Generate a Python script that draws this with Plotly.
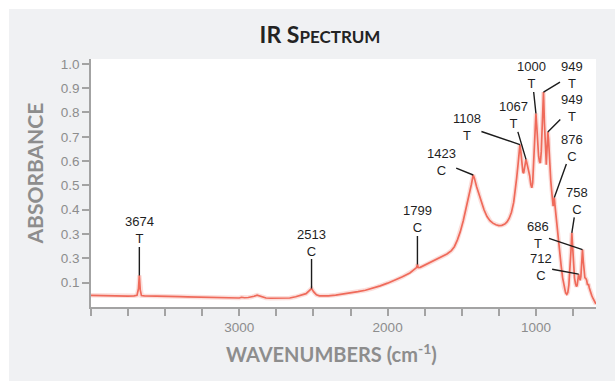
import numpy as np
import plotly.graph_objects as go

# ---- spectrum (wavenumber in cm-1, absorbance) ----
WAVENUMBER = [
    4000, 3950, 3900, 3850, 3800, 3750, 3710, 3690, 3680, 3674, 3668, 3660,
    3640, 3600, 3550, 3500, 3450, 3400, 3350, 3300, 3250, 3200, 3150, 3100,
    3050, 3020, 3000, 2985, 2965, 2940, 2920, 2900, 2880, 2865, 2845, 2820,
    2790, 2750, 2700, 2660, 2620, 2580, 2550, 2530, 2513, 2498, 2480, 2460,
    2430, 2400, 2350, 2300, 2250, 2200, 2150, 2100, 2050, 2000, 1950, 1900,
    1850, 1815, 1805, 1799, 1793, 1780, 1750, 1700, 1650, 1600, 1570, 1550,
    1530, 1510, 1490, 1470, 1450, 1435, 1423, 1415, 1400, 1385, 1370, 1350,
    1330, 1310, 1290, 1270, 1250, 1230, 1210, 1195, 1180, 1165, 1150, 1140,
    1130, 1120, 1113, 1108, 1102, 1095, 1088, 1083, 1078, 1072, 1067, 1062,
    1055, 1048, 1042, 1035, 1028, 1022, 1015, 1008, 1000, 994, 988, 982,
    976, 970, 964, 958, 953, 949, 943, 936, 930, 925, 920, 915,
    908, 900, 892, 884, 880, 876, 872, 866, 858, 850, 840, 830,
    820, 810, 800, 792, 785, 778, 770, 764, 758, 753, 747, 740,
    733, 727, 722, 717, 712, 707, 702, 697, 692, 686, 681, 676,
    670, 664, 658, 652, 646, 640, 632, 624, 615, 605, 595,
]
ABSORBANCE = [
    0.048, 0.047, 0.046, 0.046, 0.045, 0.045, 0.046, 0.048, 0.075, 0.130, 0.070, 0.047,
    0.046, 0.046, 0.045, 0.044, 0.043, 0.043, 0.042, 0.041, 0.040, 0.038, 0.037, 0.036,
    0.035, 0.035, 0.037, 0.040, 0.038, 0.039, 0.041, 0.044, 0.049, 0.046, 0.040, 0.037,
    0.036, 0.036, 0.036, 0.037, 0.042, 0.048, 0.055, 0.066, 0.076, 0.062, 0.050, 0.046,
    0.045, 0.046, 0.049, 0.053, 0.058, 0.063, 0.069, 0.077, 0.087, 0.098, 0.110, 0.124,
    0.140, 0.155, 0.162, 0.175, 0.162, 0.163, 0.172, 0.187, 0.202, 0.218, 0.232, 0.248,
    0.275, 0.310, 0.355, 0.405, 0.460, 0.505, 0.543, 0.530, 0.495, 0.465, 0.435, 0.400,
    0.372, 0.355, 0.345, 0.338, 0.335, 0.336, 0.341, 0.350, 0.365, 0.390, 0.430, 0.475,
    0.530, 0.590, 0.640, 0.668, 0.640, 0.585, 0.555, 0.550, 0.570, 0.598, 0.607, 0.595,
    0.575, 0.560, 0.540, 0.505, 0.490, 0.510, 0.590, 0.700, 0.796, 0.740, 0.660, 0.620,
    0.598, 0.592, 0.640, 0.750, 0.840, 0.884, 0.760, 0.630, 0.585, 0.650, 0.720, 0.690,
    0.590, 0.520, 0.465, 0.415, 0.430, 0.450, 0.420, 0.380, 0.330, 0.290, 0.230, 0.170,
    0.120, 0.080, 0.058, 0.052, 0.060, 0.090, 0.150, 0.230, 0.305, 0.240, 0.170, 0.120,
    0.095, 0.084, 0.090, 0.115, 0.135, 0.120, 0.110, 0.125, 0.170, 0.236, 0.190, 0.140,
    0.120, 0.118, 0.110, 0.090, 0.095, 0.078, 0.060, 0.048, 0.035, 0.022, 0.012,
]

# ---- peak assignments (T / C) ----
PEAK_TEXT = ["3674<br>T", "2513<br>C", "1799<br>C", "1423<br>C", "1108<br>T",
             "1067<br>T", "1000<br>T", "949<br>T", "949<br>T", "876<br>C",
             "758<br>C", "686<br>T", "712<br>C"]
PEAK_WN = [3674, 2513, 1799, 1423, 1108, 1067, 1000, 949, 920, 876, 758, 686, 712]
# label offsets from the peak tip, in pixels
PEAK_AX = [0, 0, 0, -32, -53, -13, -4, 28, 24, 18, 5, -45, -38]
PEAK_AY = [-45, -46, -45, -13, -18, -44, -38, -17, -24, -50, -32, -15, -7]

Y_TICKS = [0.1, 0.2, 0.3, 0.4, 0.5, 0.6, 0.7, 0.8, 0.9, 1.0]
Y_TICK_TEXT = ["0.1", "0.3", "0.3", "0.4", "0.5", "0.6", "0.7", "0.8", "0.9", "1.0"]
X_TICKS = [3000, 2000, 1000]
X_TICK_TEXT = ["3000", "2000", "1000"]
X_MINOR_TICKS = list(range(4000, 500, -250))

W, H = 615, 381
M_L, M_R, M_T, M_B = 91, 19, 59, 73.5
PW, PH = W - M_L - M_R, H - M_T - M_B


def px_x(px):
    return (px - M_L) / PW


def px_y(py):
    return (H - M_B - py) / PH


LINE = "#ef6a5a"
GREY_TXT = "#8d8d8d"
AXIS = "#a3a3a3"
TICK_FONT = dict(family="Liberation Sans, Arial, sans-serif", size=13.5, color=GREY_TXT)
TITLE_FONT = dict(family="Lato, sans-serif", color=GREY_TXT, weight="bold")

fig = go.Figure()
# soft halo under the trace
fig.add_trace(go.Scatter(x=WAVENUMBER, y=ABSORBANCE, mode="lines",
                         line=dict(color="rgba(239,106,90,0.22)", width=4.5),
                         hoverinfo="skip", showlegend=False))
fig.add_trace(go.Scatter(x=WAVENUMBER, y=ABSORBANCE, mode="lines",
                         line=dict(color=LINE, width=1.7),
                         hoverinfo="skip", showlegend=False))

wn_sorted = np.array(WAVENUMBER[::-1], dtype=float)
ab_sorted = np.array(ABSORBANCE[::-1], dtype=float)

annotations = []
for txt, wn, ax, ay in zip(PEAK_TEXT, PEAK_WN, PEAK_AX, PEAK_AY):
    annotations.append(dict(
        x=wn, y=float(np.interp(wn, wn_sorted, ab_sorted)), xref="x", yref="y",
        text=txt, showarrow=True, arrowhead=0, arrowwidth=1.4, arrowcolor="#1c1c1c",
        ax=ax, ay=ay, standoff=0, startstandoff=0, borderpad=0,
        font=dict(family="Liberation Sans, Arial, sans-serif", size=13, color="#1f1f1f"),
        align="center",
    ))

shapes = [
    # white strips along the top and left edges of the page
    dict(type="rect", xref="paper", yref="paper", x0=px_x(-5), x1=px_x(W + 5),
         y0=px_y(9), y1=px_y(-5), fillcolor="white", line_width=0, layer="below"),
    dict(type="rect", xref="paper", yref="paper", x0=px_x(-5), x1=px_x(9),
         y0=px_y(H + 5), y1=px_y(-5), fillcolor="white", line_width=0, layer="below"),
]

fig.update_layout(
    width=W, height=H,
    margin=dict(l=M_L, r=M_R, t=M_T, b=M_B, pad=0),
    paper_bgcolor="#f0f1f3", plot_bgcolor="white",
    showlegend=False,
    title=dict(text="IR S<span style='font-size:17px'>PECTRUM</span>",
               x=320 / W, y=1 - 35 / H, xref="container", yref="container",
               xanchor="center", yanchor="middle",
               font=dict(family="Lato, sans-serif", size=23, color="#232323", weight="bold")),
    annotations=annotations, shapes=shapes,
    xaxis=dict(range=[4000, 595], tickmode="array", tickvals=X_TICKS, ticktext=X_TICK_TEXT,
               ticks="outside", ticklen=7, tickwidth=1.5, tickcolor=AXIS,
               minor=dict(tickmode="array", tickvals=X_MINOR_TICKS, ticks="outside",
                          ticklen=7, tickwidth=1.5, tickcolor=AXIS, showgrid=False),
               showline=True, linecolor=AXIS, linewidth=1.5, showgrid=False, zeroline=False,
               tickfont=TICK_FONT,
               title=dict(text="WAVENUMBERS (cm<sup>-1</sup>)&nbsp;&nbsp;&nbsp;&nbsp;&nbsp;",
                          standoff=14, font=dict(size=20, **TITLE_FONT))),
    yaxis=dict(range=[0, 1.02], tickmode="array", tickvals=Y_TICKS, ticktext=Y_TICK_TEXT,
               ticks="outside", ticklen=7, tickwidth=1.5, tickcolor=AXIS,
               showline=True, linecolor=AXIS, linewidth=1.5, showgrid=False, zeroline=False,
               tickfont=TICK_FONT,
               title=dict(text="&nbsp;&nbsp;&nbsp;&nbsp;ABSORBANCE",
                          standoff=11, font=dict(size=21, **TITLE_FONT))),
)

fig.write_html("out.html")
